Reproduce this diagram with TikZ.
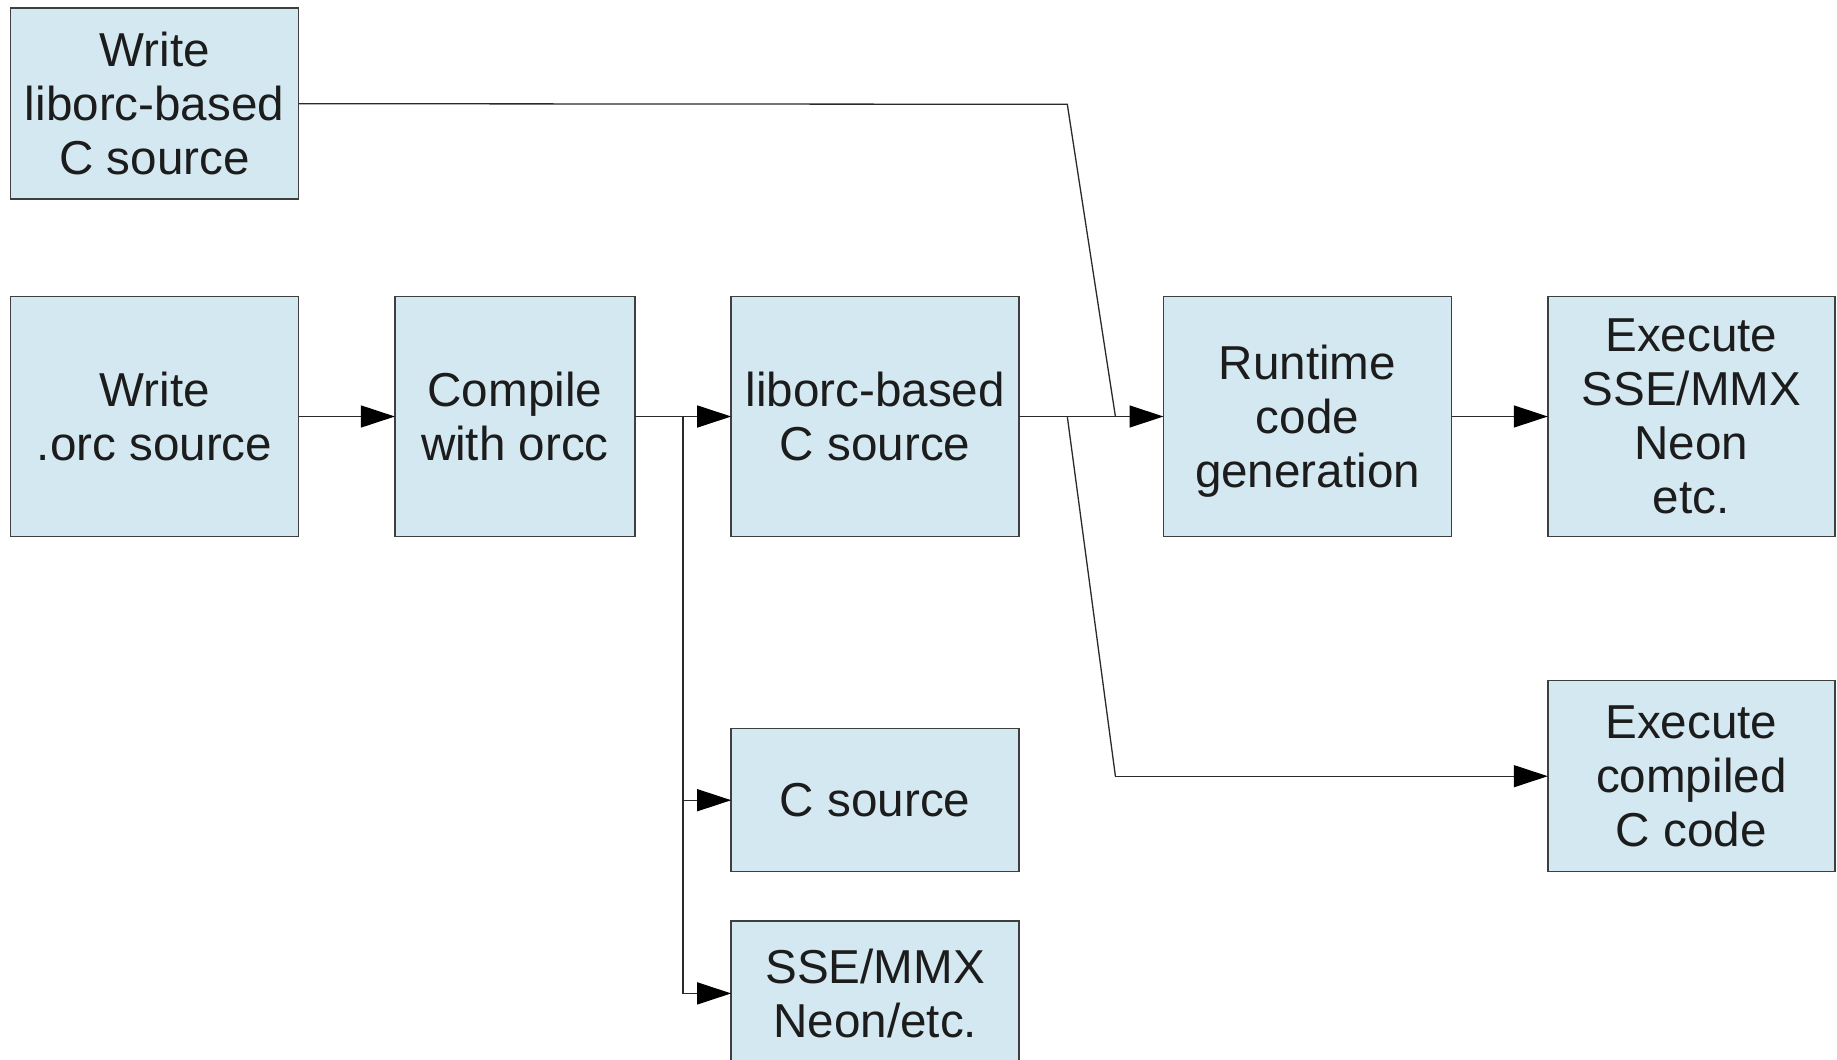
\documentclass[tikz,border=0pt]{standalone}
\usepackage{fontspec}
\setmainfont{Liberation Sans}
\usetikzlibrary{arrows.meta}
\definecolor{boxfill}{HTML}{D3E8F1}
\definecolor{boxline}{HTML}{3F3F3F}
\definecolor{txt}{HTML}{1C1C1C}
\definecolor{wire}{HTML}{2A2A2A}
\tikzset{
  stepbox/.style={draw=boxline, fill=boxfill, line width=1.5pt, inner sep=0pt,
    outer sep=0pt, align=center, text=txt,
    font=\fontsize{47.6}{54}\selectfont},
  conn/.style={draw=wire, line width=1.3pt},
  arr/.style={conn, -{Triangle[length=34pt,width=22pt,color=black]}}
}
\begin{document}
\begin{tikzpicture}[x=1pt,y=-1pt]
\useasboundingbox (0,0) rectangle (1837,1060);
\clip (0,0) rectangle (1837,1060);
\fill[white] (0,0) rectangle (1837,1060);

% process boxes
\node[stepbox, minimum width=288pt, minimum height=191pt] (A) at (154.6,103.7) {Write\\liborc-based\\C source};
\node[stepbox, minimum width=288pt, minimum height=240pt] (B) at (154.6,416.5) {Write\\.orc source};
\node[stepbox, minimum width=240pt, minimum height=240pt] (C) at (514.9,416.5) {Compile\\with orcc};
\node[stepbox, minimum width=288pt, minimum height=240pt] (D) at (875.2,416.5) {liborc-based\\C source};
\node[stepbox, minimum width=288pt, minimum height=240pt, text depth=0pt] (E) at (1307.5,416.5) {Runtime\\code\\generation};
\node[stepbox, minimum width=287pt, minimum height=240pt] (F) at (1691.3,416.5) {Execute\\SSE/MMX\\Neon\\etc.};
\node[stepbox, minimum width=287pt, minimum height=191pt] (G) at (1691.3,776.2) {Execute\\compiled\\C code};
\node[stepbox, minimum width=288pt, minimum height=143pt] (H) at (875.2,800.2) {C source};
\node[stepbox, minimum width=288pt, minimum height=145pt] (I) at (875.2,993.4) {SSE/MMX\\Neon/etc.};

% bend points of the connectors
\coordinate (k1) at (1067.3,104.3);
\coordinate (k2) at (1115.4,416.5);
\coordinate (j1) at (683,416.5);
\coordinate (j2) at (1067.3,416.5);
\coordinate (k3) at (1115.4,776.2);

% connectors
\draw[arr] (B.east) -- (C.west);
\draw[arr] (C.east) -- (D.west);
\draw[arr] (j1) |- (H.west);
\draw[arr] (j1) |- (I.west);
\draw[conn] (A.east) -- (k1) -- (k2);
\draw[arr] (D.east) -- (E.west);
\draw[conn] (j2) -- (k3);
\draw[arr] (k3) -- (G.west);
\draw[arr] (E.east) -- (F.west);
\end{tikzpicture}
\end{document}
